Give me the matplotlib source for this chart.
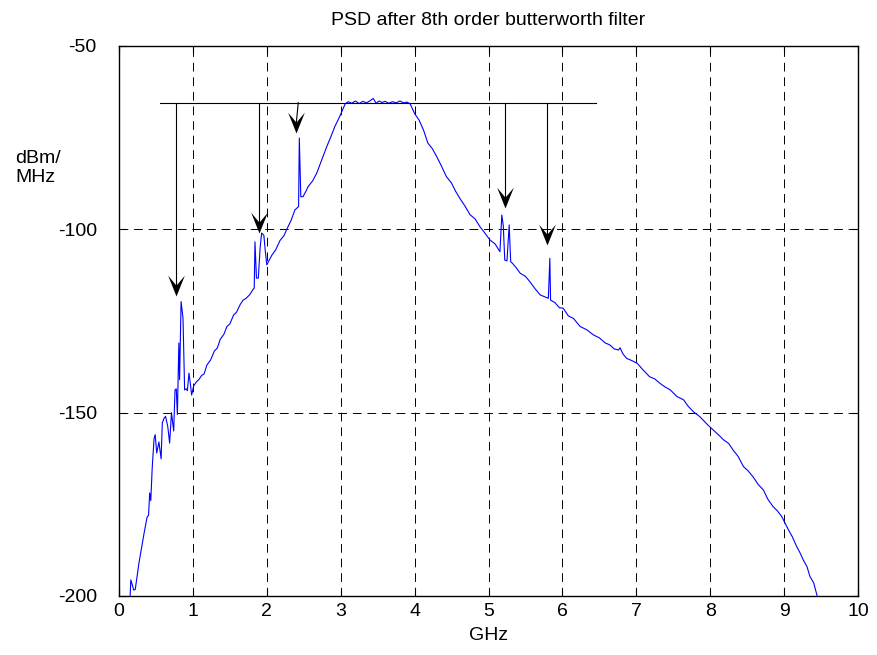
import matplotlib
matplotlib.use('Agg')
import matplotlib.pyplot as plt
import numpy as np
from matplotlib.path import Path

# ===== data (GHz, dBm/MHz) =====
freq_low = [0.15, 0.16, 0.20, 0.22, 0.27, 0.30, 0.34, 0.38, 0.40, 0.415, 0.43, 0.45,
            0.475, 0.49, 0.51, 0.54, 0.57, 0.586, 0.61, 0.63, 0.66, 0.685, 0.71, 0.74,
            0.758, 0.775, 0.79, 0.81, 0.82, 0.84, 0.866, 0.888, 0.91, 0.925, 0.947,
            0.965, 0.983, 1.01, 1.05, 1.08, 1.12, 1.15, 1.19]
psd_low = [-200.2, -195.6, -198.4, -198.2, -191, -187.5, -182.8, -178.5, -178, -171.9,
           -174, -164.8, -157, -156, -161, -158, -162.6, -152.8, -151.5, -151, -153.8,
           -158.3, -150, -155, -143.8, -143.5, -150.5, -131, -141, -119.7, -124.2,
           -143.8, -143.5, -144, -139.2, -142, -145.2, -142.7, -141.5, -141, -139.8,
           -139.5, -137]

freq_up = [1.24, 1.29, 1.33, 1.37, 1.42, 1.46, 1.50, 1.55, 1.59, 1.64, 1.68, 1.72, 1.77,
           1.81, 1.83, 1.84, 1.86, 1.885, 1.91, 1.93, 1.96, 1.98, 2.0, 2.03, 2.07, 2.12,
           2.18, 2.23, 2.27, 2.33, 2.38, 2.43, 2.44, 2.46, 2.49, 2.53, 2.56, 2.62, 2.675,
           2.74, 2.81, 2.87, 2.92, 2.98, 3.03, 3.06]
psd_up = [-135.6, -133.2, -132.4, -130, -128.6, -126.5, -125.8, -123.4, -122.6, -120.5,
          -119.3, -118.8, -117.8, -116.5, -116, -103.4, -113.3, -113.3, -105, -101,
          -101.6, -106, -109.7, -108.5, -107, -105.6, -103, -101.8, -100, -97.5, -94.7,
          -93.8, -75.1, -91.1, -91.1, -89.6, -88.3, -86.8, -84.7, -81.2, -77.5, -74.6,
          -72, -69.5, -67.2, -65.8]

freq_pass = [3.10, 3.15, 3.20, 3.25, 3.30, 3.35, 3.40, 3.44, 3.48, 3.52, 3.56, 3.60,
             3.65, 3.70, 3.75, 3.80, 3.85, 3.90, 3.94]
psd_pass = [-65.2, -65.6, -65.0, -65.7, -65.1, -65.5, -64.9, -64.3, -65.6, -65.0, -65.4,
            -65.1, -65.6, -65.2, -65.5, -65.0, -65.5, -65.3, -65.8]

freq_down = [4.0, 4.06, 4.12, 4.18, 4.24, 4.30, 4.36, 4.43, 4.50, 4.56, 4.61, 4.68, 4.75,
             4.82, 4.885, 4.95, 5.02, 5.09, 5.155, 5.18, 5.20, 5.22, 5.25, 5.28, 5.30,
             5.33, 5.38, 5.43, 5.50, 5.56, 5.63, 5.70, 5.76, 5.81, 5.83, 5.84, 5.90, 5.96,
             6.01, 6.08, 6.15, 6.24, 6.33, 6.42, 6.50, 6.58, 6.64, 6.70, 6.76, 6.78, 6.82,
             6.87, 6.94, 7.01, 7.09, 7.18, 7.25, 7.32, 7.39, 7.46, 7.55, 7.64, 7.70, 7.77,
             7.86, 7.97, 8.04, 8.11, 8.18, 8.25, 8.31, 8.38, 8.45, 8.51, 8.58, 8.65, 8.72,
             8.78, 8.85, 8.91, 8.97, 9.02, 9.06, 9.11, 9.17, 9.22, 9.26, 9.31, 9.35, 9.40,
             9.45]
psd_down = [-68.4, -70.2, -72.9, -76.5, -78.0, -80.2, -82.6, -85.6, -87.4, -89.8, -91.5,
            -93.6, -96, -97.2, -99.3, -101.0, -102.9, -104.0, -106.1, -96.1, -99, -108.4,
            -108.6, -98.8, -108.8, -109.4, -110.6, -112, -112.8, -114.3, -116.2, -117.9,
            -118.4, -118.8, -107.9, -119.3, -120.0, -121.4, -121.5, -123.6, -124.3,
            -126.5, -127.4, -128.8, -129.6, -131.0, -131.5, -132.6, -132.9, -132.3,
            -134.0, -135.2, -135.8, -136.5, -138.3, -140.2, -140.8, -142, -143.0, -143.8,
            -145.6, -146.5, -148.2, -149.7, -151.1, -153.4, -154.7, -156.0, -157.4,
            -158.4, -160.2, -162.0, -164.7, -165.8, -167.5, -169.6, -171.1, -173.6,
            -175.6, -176.8, -178.4, -180.4, -182, -183.8, -186.5, -188.4, -190.2, -192.0,
            -194.7, -196.4, -200.2]

# reference line and arrows pointing at the spurs
ref_level = -65.45
ref_span = [0.555, 6.45]
arrow_x_top = [0.775, 1.894, 2.426, 5.223, 5.79]
arrow_x_tip = [0.775, 1.894, 2.40, 5.223, 5.79]
arrow_y_tip = [-118.1, -101.1, -73.8, -94.3, -104.3]

x_ticks = list(range(0, 11))
y_ticks = [-200, -150, -100, -50]

freq = np.concatenate([freq_low, freq_up, freq_pass, freq_down])
psd = np.concatenate([psd_low, psd_up, psd_pass, psd_down])

plt.rcParams['font.family'] = ['Liberation Sans', 'DejaVu Sans']
plt.rcParams['axes.unicode_minus'] = False

fig = plt.figure(figsize=(8.77, 6.55), dpi=100)
ax = fig.add_axes([119 / 877, 59 / 655, 739 / 877, 550 / 655])

ax.plot(freq, psd, color='#0000ff', linewidth=0.8, clip_on=True)

# concave arrow head, tip at origin pointing down
head = Path([(0, 0), (0.4, 1.0), (0, 0.52), (-0.4, 1.0), (0, 0)],
            [Path.MOVETO, Path.LINETO, Path.LINETO, Path.LINETO, Path.CLOSEPOLY])

ax.plot(ref_span, [ref_level, ref_level], color='k', linewidth=0.8)
for xt, xp, yp in zip(arrow_x_top, arrow_x_tip, arrow_y_tip):
    ax.plot([xt, xp], [ref_level, yp + 3], color='k', linewidth=0.8)
    ax.plot([xp], [yp], marker=head, markersize=30, color='k', markeredgewidth=0)

ax.set_xlim(0, 10)
ax.set_ylim(-200, -50)
ax.set_xticks(x_ticks)
ax.set_yticks(y_ticks)
ax.grid(True, color='k', linestyle=(0, (9, 6)), linewidth=0.7)
ax.tick_params(direction='in', length=5, top=True, right=True, labelsize=14)
ax.tick_params(axis='y', pad=16)
ax.tick_params(axis='x', pad=5)
for s in ax.spines.values():
    s.set_linewidth(1.0)

ax.set_title('PSD after 8th order butterworth filter', fontsize=14, pad=15)
ax.set_xlabel('GHz', fontsize=14, labelpad=5)
ax.set_ylabel('dBm/\nMHz', fontsize=14, rotation=0, ha='left', va='center',
              linespacing=1.15)
ax.yaxis.set_label_coords(-0.1407, 0.778)

plt.savefig('out.png', dpi=100)
plt.close(fig)
